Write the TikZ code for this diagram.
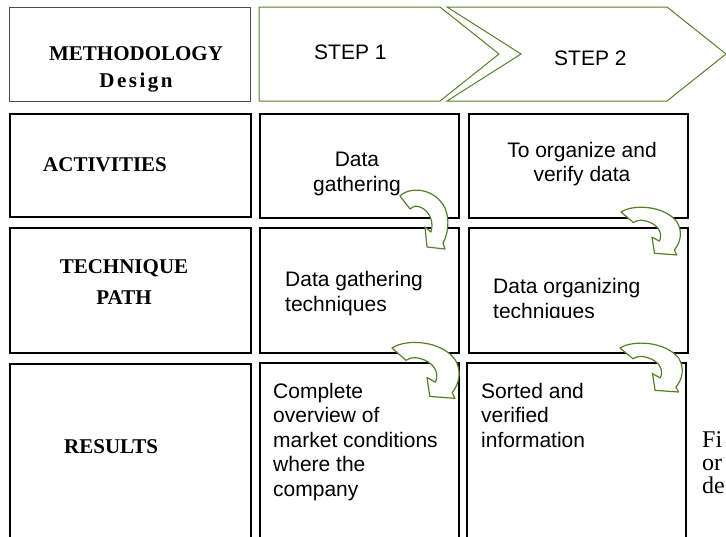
\documentclass[tikz,border=0pt]{standalone}
\usepackage{fontspec}
\setmainfont{Liberation Sans}
\newfontfamily\headfont{Liberation Serif}
\definecolor{stepgreen}{RGB}{84,130,35}
\tikzset{
	bendarrow/.pic={
		\draw[stepgreen,line width=1.2pt,fill=white,line join=round]
			(0,0) .. controls (10,-10) and (35,-8) .. (45,12)
			.. controls (50,24) and (48,38) .. (43,47) -- (45,53) -- (27,51)
			-- (25,31) -- (31,36) .. controls (34,26) and (30,15) .. (20,11)
			.. controls (15,9) and (12,11) .. (10,13) -- cycle;
	}
}

\begin{document}
\begin{tikzpicture}[x=1pt,y=-1pt,
	cell/.style={draw=black,line width=1.6pt,anchor=north west,inner sep=0pt},
	txt/.style={inner sep=0pt,anchor=base west,font=\fontsize{21}{24.5}\selectfont},
	para/.style={inner sep=0pt,anchor=north west,align=left,font=\fontsize{21}{24.5}\selectfont},
	mid/.style={para,anchor=north,align=center},
	head/.style={inner sep=0pt,anchor=base west,font=\headfont\bfseries\fontsize{21}{24.5}\selectfont},
	headmid/.style={head,anchor=north,align=center}]
			\useasboundingbox (0,0) rectangle (726,536);
			\clip (0,0) rectangle (726,536);
	
			\node[cell,draw=black!70,line width=1.2pt,minimum width=241pt,minimum height=94pt] (methbox) at (9,7) {};
			\node[cell,minimum width=241pt,minimum height=103pt] (actbox) at (9,113) {};
			\node[cell,minimum width=241pt,minimum height=125pt] (techbox) at (9,227) {};
			\node[cell,minimum width=241pt,minimum height=180pt] (resbox) at (9,363) {};
	
			\node[cell,minimum width=199pt,minimum height=104pt] (actone) at (259,113) {};
			\node[cell,minimum width=199pt,minimum height=125pt] (techone) at (259,227) {};
			\node[cell,minimum width=199pt,minimum height=181pt] (resone) at (259,362) {};
			\node[cell,minimum width=219pt,minimum height=104pt] (acttwo) at (468,113) {};
			\node[cell,minimum width=219pt,minimum height=125pt] (techtwo) at (468,227) {};
			\node[cell,minimum width=219pt,minimum height=181pt] (restwo) at (466,362) {};
	
			\draw[stepgreen,line width=1pt] (259,7) -- (440,7) -- (499,54) -- (440,101) -- (259,101) -- cycle;
			\draw[stepgreen,line width=1pt] (447,7) -- (667,7) -- (726,54) -- (667,101) -- (447,101) -- (521,54) -- cycle;
	
				\node[headmid] (methlbl) at (136,42.85) {\strut METHODOLOGY\\[2.5pt]\addfontfeatures{LetterSpace=12}Design};
				\node[head] (actlbl) at (43,171) {ACTIVITIES};
				\node[headmid] (techlbl) at (124,255.85) {\strut TECHNIQUE\\[6.5pt]PATH};
				\node[head] (reslbl) at (64,453) {RESULTS};
	
				\node[txt] (stepone) at (314,59.3) {STEP 1};
				\node[txt] (steptwo) at (554,65.3) {STEP 2};
				\node[mid] (actonelbl) at (357,149.5) {\strut Data\\gathering};
				\node[mid] (acttwolbl) at (582,139.85) {\strut To organize and\\verify data};
				\node[para] (techonelbl) at (285,269.5) {\strut Data gathering\\techniques};
				\begin{scope}
					\clip (468,260) rectangle (687,317);
					\node[para] (techtwolbl) at (493,276.15) {\strut Data organizing\\techniques};
				\end{scope}
				\node[para] (resonelbl) at (273,380.85) {\strut Complete\\overview of\\market conditions\\where the\\company};
				\node[para] (restwolbl) at (481,380.85) {\strut Sorted and\\verified\\information};
				\node[para,font=\headfont\fontsize{24}{23}\selectfont] (caption) at (702,430.9) {\strut Fi\\or\\de};
	
			\pic at (400,196) {bendarrow};
			\pic[xscale=1.24,yscale=0.81] at (621,212) {bendarrow};
			\pic[xscale=1.4,yscale=0.95] at (392,348) {bendarrow};
			\pic[xscale=1.3,yscale=0.83] at (620,348) {bendarrow};
		\end{tikzpicture}
\end{document}
